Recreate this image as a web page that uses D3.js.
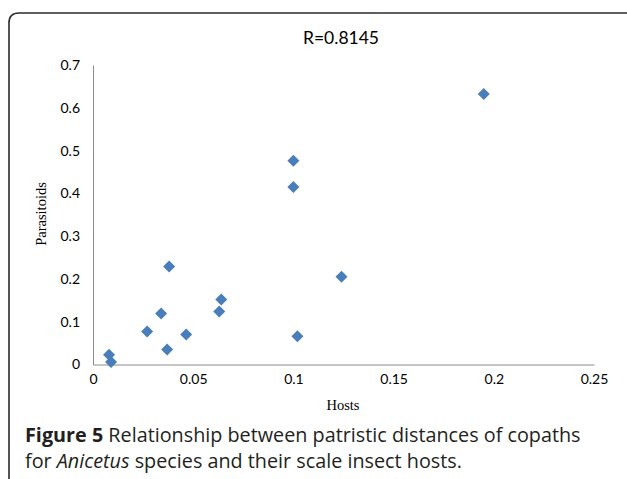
<!DOCTYPE html>
<html>
<head>
<meta charset="utf-8">
<script src="https://cdn.jsdelivr.net/npm/d3@7"></script>
<style>
  body { margin: 0; background: #fff; }
  svg { display: block; }
</style>
</head>
<body>
<svg id="chart"></svg>
<script>
// Data
const hosts       = [0.195, 0.100, 0.100, 0.124, 0.038, 0.064, 0.063, 0.034, 0.027, 0.0465, 0.037, 0.102, 0.008, 0.009];
const parasitoids = [0.632, 0.476, 0.415, 0.205, 0.229, 0.152, 0.124, 0.119, 0.077, 0.070, 0.035, 0.066, 0.023, 0.006];
const xTicks = [0, 0.05, 0.1, 0.15, 0.2, 0.25];
const yTicks = [0, 0.1, 0.2, 0.3, 0.4, 0.5, 0.6, 0.7];

// Constants
const width = 627;
const height = 479;

const svg = d3.select("#chart")
  .attr("width", width)
  .attr("height", height);

// Rounded frame (open at right and bottom)
svg.append("path")
  .attr("d", "M9,479 L9,23 Q9,13 19,13 L627,13")
  .attr("fill", "none")
  .attr("stroke", "#2b2b2b")
  .attr("stroke-width", 1.6);

// Scales
const x = d3.scaleLinear().domain([0, 0.25]).range([93, 594]);
const y = d3.scaleLinear().domain([0, 0.7]).range([364.5, 65]);

// Title
svg.append("text")
  .attr("x", 341).attr("y", 44)
  .attr("text-anchor", "middle")
  .style("font-family", "Lato, 'Open Sans', sans-serif")
  .style("font-size", "17.5px")
  .style("fill", "#000")
  .text("R=0.8145");

// Axes
const xAxis = svg.append("g")
  .attr("transform", `translate(0,${y(0)})`)
  .call(d3.axisBottom(x).tickValues(xTicks).tickSize(0).tickPadding(10).tickFormat(d3.format("")));
const yAxis = svg.append("g")
  .attr("transform", `translate(${x(0)},0)`)
  .call(d3.axisLeft(y).tickValues(yTicks).tickSize(0).tickPadding(13).tickFormat(d3.format("")));

[xAxis, yAxis].forEach((g) => {
  g.select(".domain").attr("stroke", "#8c8c8c").attr("stroke-width", 1);
  g.selectAll("text")
    .style("font-family", "Lato, 'Open Sans', sans-serif")
    .style("font-size", "14px")
    .style("fill", "#000");
});

// Axis titles
svg.append("text")
  .attr("x", 343).attr("y", 410)
  .attr("text-anchor", "middle")
  .style("font-family", "'Liberation Serif', serif")
  .style("font-size", "14.5px")
  .text("Hosts");

svg.append("text")
  .attr("transform", "translate(46,214) rotate(-90)")
  .attr("text-anchor", "middle")
  .style("font-family", "'Liberation Serif', serif")
  .style("font-size", "14.5px")
  .text("Parasitoids");

// Points
const diamond = d3.symbol().type(d3.symbolSquare).size(72);
svg.append("g")
  .selectAll("path")
  .data(d3.zip(hosts, parasitoids))
  .enter().append("path")
  .attr("d", diamond)
  .attr("transform", (d) => `translate(${x(d[0])},${y(d[1])}) rotate(45)`)
  .style("fill", "#4a7ebb");

// Caption
const cap = svg.append("text")
  .style("font-family", "'Open Sans', sans-serif")
  .style("font-size", "19.8px")
  .style("fill", "#231f20");
const l1 = cap.append("tspan").attr("x", 25).attr("y", 442);
l1.append("tspan").style("font-weight", "bold").text("Figure 5");
l1.append("tspan").text(" Relationship between patristic distances of copaths");
const l2 = cap.append("tspan").attr("x", 25).attr("y", 468);
l2.append("tspan").text("for ");
l2.append("tspan").style("font-style", "italic").text("Anicetus");
l2.append("tspan").text(" species and their scale insect hosts.");
</script>
</body>
</html>
